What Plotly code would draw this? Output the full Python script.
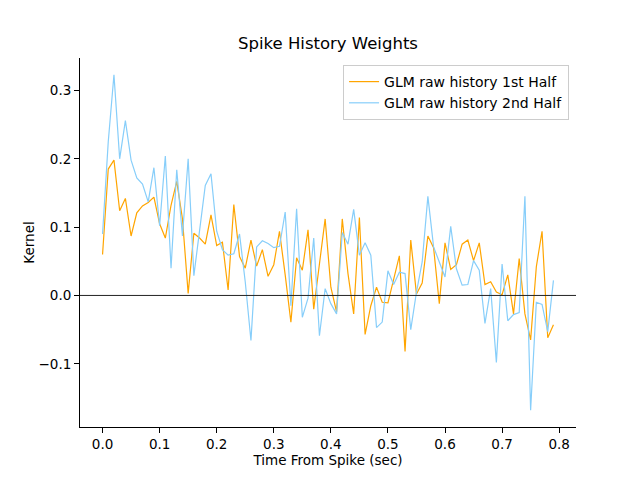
import plotly.graph_objects as go

# time lags (sec)
times = [round(0.01 * i, 2) for i in range(80)]

first_half = [
    0.060, 0.185, 0.198, 0.124, 0.142, 0.087, 0.121, 0.131, 0.136, 0.144,
    0.105, 0.084, 0.132, 0.167, 0.112, 0.003, 0.091, 0.084, 0.075, 0.118,
    0.073, 0.078, 0.008, 0.133, 0.057, 0.040, 0.081, 0.043, 0.067, 0.028,
    0.045, 0.094, 0.030, -0.039, 0.055, 0.037, 0.096, -0.020, 0.046, 0.112,
    0.012, -0.024, 0.112, 0.032, -0.027, 0.114, -0.057, -0.015, 0.012, -0.010,
    -0.011, 0.022, 0.058, -0.082, 0.081, 0.002, 0.018, 0.087, 0.070, -0.012,
    0.077, 0.038, 0.045, 0.075, 0.081, 0.051, 0.077, 0.016, 0.020, 0.005,
    0.001, 0.030, -0.027, 0.054, -0.027, -0.065, 0.042, 0.094, -0.062, -0.043,
]

second_half = [
    0.090, 0.225, 0.323, 0.200, 0.256, 0.198, 0.172, 0.163, 0.137, 0.187,
    0.102, 0.204, 0.040, 0.184, 0.087, 0.200, 0.029, 0.095, 0.161, 0.178,
    0.094, 0.067, 0.059, 0.061, 0.090, 0.020, -0.066, 0.071, 0.080, 0.076,
    0.070, 0.072, 0.122, -0.015, 0.127, -0.032, -0.004, 0.084, -0.059, 0.010,
    -0.012, -0.027, 0.092, 0.075, 0.126, 0.059, 0.077, 0.059, -0.047, -0.039,
    0.036, 0.016, 0.034, 0.032, -0.050, 0.005, 0.049, 0.145, 0.071, 0.049,
    0.027, 0.101, 0.039, 0.015, 0.016, 0.051, 0.037, -0.041, 0.010, -0.098,
    0.046, -0.037, -0.028, -0.025, 0.145, -0.168, -0.010, -0.013, -0.053, 0.022,
]

series_names = ["GLM raw history 1st Half", "GLM raw history 2nd Half"]
x_ticks = [0.0, 0.1, 0.2, 0.3, 0.4, 0.5, 0.6, 0.7, 0.8]
y_ticks = [-0.1, 0.0, 0.1, 0.2, 0.3]

FONT = "DejaVu Sans"

fig = go.Figure()
fig.add_trace(go.Scatter(x=times, y=first_half, mode="lines", name=series_names[0],
                         line=dict(color="orange", width=1.2)))
fig.add_trace(go.Scatter(x=times, y=second_half, mode="lines", name=series_names[1],
                         line=dict(color="lightskyblue", width=1.2)))

# axis ranges with 5% margins like matplotlib
xmin, xmax = min(times), max(times)
xm = 0.05 * (xmax - xmin)
allv = first_half + second_half
ymin, ymax = min(allv), max(allv)
ym = 0.05 * (ymax - ymin)

fig.add_hline(y=0, line=dict(color="#222222", width=1))

# page body has an 8px margin, so the figure is 632x472 with offset margins
W, H = 632, 472
fig.update_layout(
    width=W, height=H,
    margin=dict(l=72, r=64, t=50, b=53),
    paper_bgcolor="white", plot_bgcolor="white",
    font=dict(family=FONT, size=14, color="black"),
    title=dict(text="Spike History Weights", x=0.5, xanchor="center",
               xref="paper",
               y=1 - 35 / H, yanchor="middle", yref="container",
               font=dict(size=16.5, family=FONT, color="black")),
    showlegend=True,
    legend=dict(x=0.986, y=0.981, xanchor="right", yanchor="top",
                bgcolor="rgba(255,255,255,0.8)", bordercolor="#cccccc",
                borderwidth=1, font=dict(size=14, family=FONT)),
    xaxis=dict(range=[xmin - xm, xmax + xm], tickvals=x_ticks,
               ticktext=[f"{v:.1f}" for v in x_ticks],
               showgrid=False, zeroline=False, showline=True, linecolor="black",
               linewidth=1, ticks="outside", ticklen=5, tickwidth=1, tickcolor="black",
               tickfont=dict(size=13.5),
               title=dict(text="Time From Spike (sec)", standoff=4,
                          font=dict(size=13.5, family=FONT))),
    yaxis=dict(range=[ymin - ym, ymax + ym], tickvals=y_ticks,
               ticktext=[f"{v:.1f}".replace("-", "\u2212") for v in y_ticks],
               showgrid=False, zeroline=False, showline=True, linecolor="black",
               linewidth=1, ticks="outside", ticklen=5, tickwidth=1, tickcolor="black",
               tickfont=dict(size=13.5),
               title=dict(text="Kernel", standoff=0,
                          font=dict(size=13.5, family=FONT))),
)

fig.write_html("out.html")
